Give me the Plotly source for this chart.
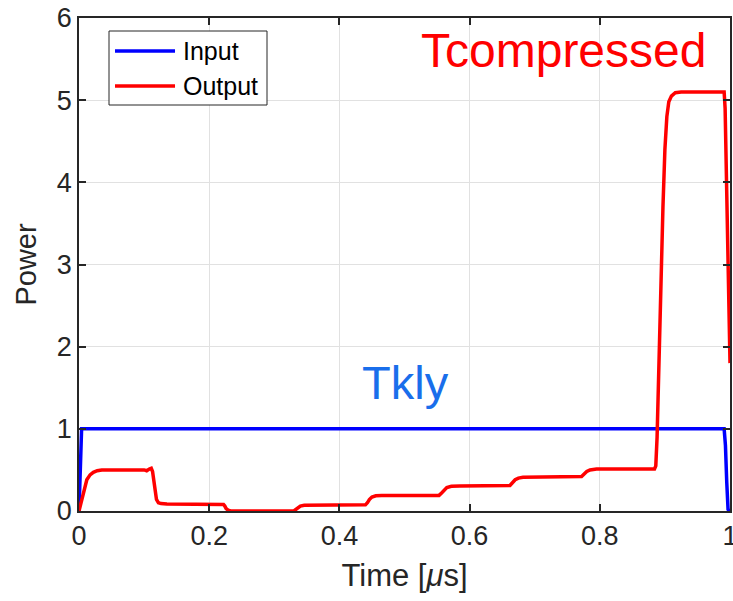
import plotly.graph_objects as go

# Input pulse (klystron drive), normalised power vs time in microseconds
t_input = [0.000, 0.004, 0.991, 0.993, 0.995, 0.997, 1.000]
p_input = [0.00, 1.00, 1.00, 0.80, 0.35, 0.02, 0.00]

# Output of the pulse compressor: stepped ramp followed by the compressed pulse
t_output = [
    0.000, 0.004, 0.008, 0.012, 0.017, 0.022, 0.028, 0.035,
    0.100, 0.104, 0.108, 0.111, 0.113, 0.115, 0.117, 0.119, 0.122, 0.126, 0.135,
    0.215, 0.219, 0.222, 0.224, 0.226, 0.229, 0.233,
    0.330, 0.333, 0.336, 0.340, 0.346,
    0.440, 0.443, 0.446, 0.450, 0.456, 0.465,
    0.553, 0.557, 0.561, 0.565, 0.572, 0.585,
    0.662, 0.666, 0.670, 0.675, 0.682,
    0.772, 0.776, 0.780, 0.785, 0.795,
    0.884, 0.886, 0.888, 0.890, 0.893, 0.897, 0.900, 0.903, 0.906, 0.910, 0.916, 0.925,
    0.991, 0.9925, 1.000,
]
p_output = [
    0.00, 0.12, 0.28, 0.38, 0.44, 0.47, 0.49, 0.50,
    0.50, 0.49, 0.51, 0.52, 0.48, 0.35, 0.22, 0.14, 0.10, 0.09, 0.085,
    0.08, 0.075, 0.08, 0.06, 0.03, 0.01, 0.00,
    0.00, 0.02, 0.04, 0.06, 0.07,
    0.075, 0.10, 0.14, 0.17, 0.185, 0.19,
    0.19, 0.22, 0.26, 0.285, 0.30, 0.305,
    0.31, 0.34, 0.38, 0.40, 0.41,
    0.42, 0.45, 0.48, 0.50, 0.51,
    0.51, 0.55, 0.90, 1.60, 2.60, 3.70, 4.40, 4.80, 4.98, 5.05, 5.09, 5.10,
    5.10, 4.90, 1.80,
]

x_ticks = [0, 0.2, 0.4, 0.6, 0.8, 1]
x_tick_text = ["0", "0.2", "0.4", "0.6", "0.8", "1"]
y_ticks = [0, 1, 2, 3, 4, 5, 6]

series_names = ["Input", "Output"]
series_colors = ["rgb(0,0,255)", "rgb(255,0,0)"]

FONT = "Liberation Sans, Arial, sans-serif"
INK = "#262626"

fig = go.Figure()
fig.add_trace(go.Scatter(x=t_input, y=p_input, mode="lines", name=series_names[0],
                         line=dict(color=series_colors[0], width=3.5), showlegend=False))
fig.add_trace(go.Scatter(x=t_output, y=p_output, mode="lines", name=series_names[1],
                         line=dict(color=series_colors[1], width=3.5), showlegend=False))

axis_common = dict(
    showline=True, linecolor=INK, linewidth=1.5, mirror="ticks",
    ticks="inside", ticklen=7, tickwidth=1.5, tickcolor=INK,
    showgrid=True, gridcolor="rgb(225,225,225)", gridwidth=1,
    zeroline=False, automargin=False,
    tickfont=dict(family=FONT, size=27, color=INK),
)

fig.update_xaxes(range=[0, 1], tickvals=x_ticks, ticktext=x_tick_text,
                 ticklabeloverflow="allow",
                 title=dict(text="Time [<i>\u03bc</i>s]", font=dict(family=FONT, size=31, color=INK),
                            standoff=14),
                 **axis_common)
fig.update_yaxes(range=[0, 6], tickvals=y_ticks,
                 title=dict(text="Power", font=dict(family=FONT, size=29, color=INK), standoff=12),
                 **axis_common)

fig.add_annotation(x=0.744, y=5.6, xref="x", yref="y", text="Tcompressed", showarrow=False,
                   font=dict(family=FONT, size=48, color="rgb(255,0,0)"),
                   xanchor="center", yanchor="middle")
fig.add_annotation(x=0.502, y=1.56, xref="x", yref="y", text="Tkly", showarrow=False,
                   font=dict(family=FONT, size=47, color="rgb(25,110,235)"),
                   xanchor="center", yanchor="middle")

# Legend box drawn in paper coordinates, with a long line sample per series
legend_box = dict(x0=0.0461, x1=0.2888, y0=0.8235, y1=0.9736)
legend_rows = [0.9331, 0.8621]
fig.add_shape(type="rect", xref="paper", yref="paper", **legend_box,
              line=dict(color=INK, width=1), fillcolor="white", layer="above")
for name, color, row in zip(series_names, series_colors, legend_rows):
    fig.add_shape(type="line", xref="paper", yref="paper", x0=0.0553, x1=0.1475, y0=row, y1=row,
                  line=dict(color=color, width=3.5), layer="above")
    fig.add_annotation(xref="paper", yref="paper", x=0.1567, y=row, text=name, showarrow=False,
                       xanchor="left", yanchor="middle",
                       font=dict(family=FONT, size=25, color="black"))

fig.update_layout(
    width=733, height=601,
    margin=dict(l=79, r=3, t=18, b=90),
    paper_bgcolor="white", plot_bgcolor="white",
    font=dict(family=FONT, color=INK),
    showlegend=False,
)

fig.write_html("out.html")
